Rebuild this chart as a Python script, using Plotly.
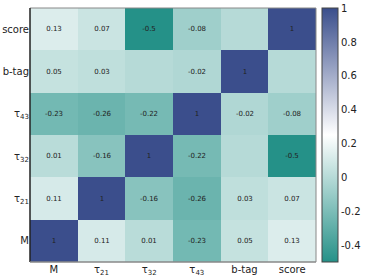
import plotly.graph_objects as go

variables = ["M", "τ<sub>21</sub>", "τ<sub>32</sub>", "τ<sub>43</sub>", "b-tag", "score"]
# correlation matrix, rows in order of variables (M first, bottom row)
corr_M     = [1.00, 0.11, 0.01, -0.23, 0.05, 0.13]
corr_tau21 = [0.11, 1.00, -0.16, -0.26, 0.03, 0.07]
corr_tau32 = [0.01, -0.16, 1.00, -0.22, 0.00, -0.50]
corr_tau43 = [-0.23, -0.26, -0.22, 1.00, -0.02, -0.08]
corr_btag  = [0.05, 0.03, 0.00, -0.02, 1.00, 0.00]
corr_score = [0.13, 0.07, -0.50, -0.08, 0.00, 1.00]

z = [corr_M, corr_tau21, corr_tau32, corr_tau43, corr_btag, corr_score]


def fmt(v):
    if v == 0:
        return ""
    s = f"{v:.2f}".rstrip("0").rstrip(".")
    return s


text = [[fmt(v) for v in row] for row in z]

colorscale = [
    [0.0, "#259188"],
    [0.5, "#ffffff"],
    [1.0, "#3a4e8c"],
]

fig = go.Figure(
    go.Heatmap(
        z=z,
        x=list(range(6)),
        y=list(range(6)),
        text=text,
        texttemplate="%{text}",
        textfont=dict(size=7, color="#222222", family="DejaVu Sans"),
        colorscale=colorscale,
        zmin=-0.5,
        zmax=1.002,
        colorbar=dict(
            x=1.021,
            xanchor="left",
            xpad=0,
            y=0.5,
            yanchor="middle",
            ypad=0,
            len=1.0,
            lenmode="fraction",
            thickness=16,
            outlinewidth=1,
            outlinecolor="#444444",
            tickvals=[-0.4, -0.2, 0, 0.2, 0.4, 0.6, 0.8, 1],
            ticktext=["-0.4", "-0.2", "0", "0.2", "0.4", "0.6", "0.8", "1"],
            ticks="",
            ticklen=0,
            tickfont=dict(size=10, color="#222222", family="DejaVu Sans"),
        ),
    )
)

fig.update_xaxes(
    tickvals=list(range(6)),
    ticktext=variables,
    ticks="",
    showgrid=False,
    zeroline=False,
    range=[-0.5, 5.5],
    tickfont=dict(size=10, color="#222222", family="DejaVu Sans"),
)
fig.update_yaxes(
    tickvals=list(range(6)),
    ticktext=variables,
    ticks="",
    showgrid=False,
    zeroline=False,
    range=[-0.5, 5.5],
    tickfont=dict(size=10, color="#222222", family="DejaVu Sans"),
)

# frame: grey top/right, dark left/bottom
fig.add_shape(type="line", xref="paper", yref="paper", x0=0, x1=1, y0=1, y1=1,
              line=dict(color="#888888", width=1))
fig.add_shape(type="line", xref="paper", yref="paper", x0=1, x1=1, y0=0, y1=1,
              line=dict(color="#888888", width=1))
fig.add_shape(type="line", xref="paper", yref="paper", x0=0, x1=0, y0=0, y1=1,
              line=dict(color="#222222", width=1.5))
fig.add_shape(type="line", xref="paper", yref="paper", x0=0, x1=1, y0=0, y1=0,
              line=dict(color="#888888", width=1.5))

fig.update_layout(
    width=374,
    height=280,
    margin=dict(l=30, r=58, t=8, b=18, pad=0, autoexpand=False),
    paper_bgcolor="white",
    plot_bgcolor="white",
    font=dict(family="DejaVu Sans", size=10, color="#222222"),
)

fig.write_html(
    "out.html",
    config={"displayModeBar": False},
    post_script="document.body.style.margin='0';document.body.style.overflow='hidden';",
)
